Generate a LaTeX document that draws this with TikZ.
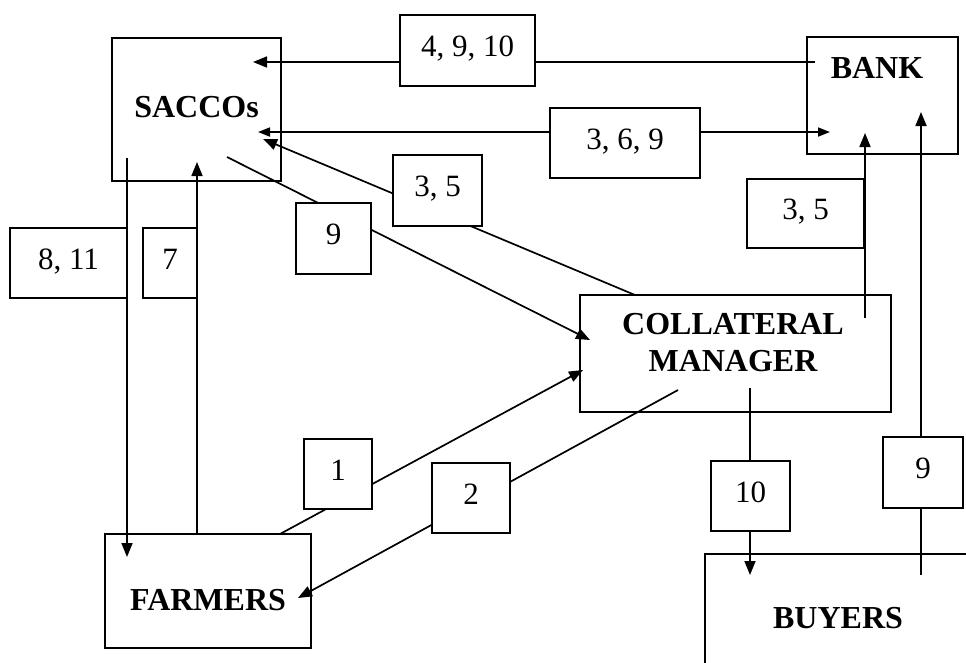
\documentclass[tikz,border=0pt]{standalone}
\usepackage{fontspec}
\setmainfont{Liberation Serif}
\usetikzlibrary{arrows.meta}
\tikzset{party/.style = {draw, line width=1.9, inner sep=0}}
\tikzset{title/.style = {font=\fontsize{32}{37}\selectfont\bfseries, align=center}}
\tikzset{tag/.style = {draw, fill=white, line width=1.9, inner sep=0, text height=20pt, text depth=8pt, font=\fontsize{31}{37}\selectfont}}
\tikzset{flow/.style = {line width=1.7, -{Triangle[length=14pt, width=11pt]}}}
\tikzset{twoway/.style = {line width=1.7, {Triangle[length=12pt, width=9pt]}-{Triangle[length=12pt, width=9pt]}}}
\begin{document}
\begin{tikzpicture}[x=1pt, y=-1pt]
            \useasboundingbox (0,0) rectangle (966,662);
            \node [party, minimum width=169, minimum height=143, label={[title, yshift=2.5]center:SACCOs}] (saccos) at (196.5,109.5) {};
            \node [party, minimum width=151, minimum height=117, label={[title, xshift=-5.5, yshift=27.5]center:BANK}] (bank) at (882.5,95.5) {};
            \node [party, minimum width=311, minimum height=117, label={[title, xshift=-2.5, yshift=11]center:COLLATERAL\\MANAGER}] (cm) at (735.5,353.5) {};
            \node [party, minimum width=206, minimum height=114, label={[title, yshift=-9]center:FARMERS}] (farmers) at (208,591) {};
            \node [party, minimum width=266, minimum height=128, label={[title]center:BUYERS}] (buyers) at (838,618) {};
            \coordinate (bank-out) at (815,62);
            \coordinate (saccos-in) at (253,62);
            \coordinate (saccos-mid) at (258,132);
            \coordinate (bank-mid) at (830,132);
            \coordinate (cm-top) at (635,295);
            \coordinate (saccos-back) at (263,139);
            \coordinate (saccos-low) at (227,157);
            \coordinate (cm-left) at (590,340);
            \coordinate (farmers-top) at (280,534);
            \coordinate (cm-left2) at (583,370);
            \coordinate (cm-low) at (678,390);
            \coordinate (farmers-right) at (298,598);
            \coordinate (saccos-foot) at (127,158);
            \coordinate (farmers-head) at (127,557);
            \coordinate (farmers-up) at (197,534);
            \coordinate (saccos-foot2) at (197,162);
            \coordinate (cm-right) at (865,318);
            \coordinate (bank-foot) at (865,133);
            \coordinate (buyers-up) at (921,575);
            \coordinate (bank-foot2) at (921,112);
            \coordinate (cm-foot) at (750,388);
            \coordinate (buyers-head) at (750,575);
            \draw [flow] (bank-out)--(saccos-in);
            \draw [twoway] (saccos-mid)--(bank-mid);
            \draw [flow] (cm-top)--(saccos-back);
            \draw [flow] (saccos-low)--(cm-left);
            \draw [flow] (farmers-top)--(cm-left2);
            \draw [flow] (cm-low)--(farmers-right);
            \draw [flow] (saccos-foot)--(farmers-head);
            \draw [flow] (farmers-up)--(saccos-foot2);
            \draw [flow] (cm-right)--(bank-foot);
            \draw [flow] (buyers-up)--(bank-foot2);
            \draw [flow] (cm-foot)--(buyers-head);
            \node [tag, minimum width=135, minimum height=71] (t4910) at (467.5,50.5) {4, 9, 10};
            \node [tag, minimum width=150, minimum height=70] (t369) at (625,143) {3, 6, 9};
            \node [tag, minimum width=89, minimum height=71] (t35a) at (437.5,190.5) {3, 5};
            \node [tag, minimum width=75, minimum height=71] (t9a) at (333.5,238.5) {9};
            \node [tag, minimum width=117, minimum height=70] (t811) at (68.5,263) {8, 11};
            \node [tag, minimum width=54, minimum height=70] (t7) at (170,263) {7};
            \node [tag, minimum width=117, minimum height=69] (t35b) at (805.5,213.5) {3, 5};
            \node [tag, minimum width=68, minimum height=70] (t1) at (338,474) {1};
            \node [tag, minimum width=78, minimum height=70] (t2) at (471,498) {2};
            \node [tag, minimum width=79, minimum height=70] (t10) at (750.5,496) {10};
            \node [tag, minimum width=80, minimum height=71] (t9b) at (923,472.5) {9};
        \end{tikzpicture}
\end{document}
